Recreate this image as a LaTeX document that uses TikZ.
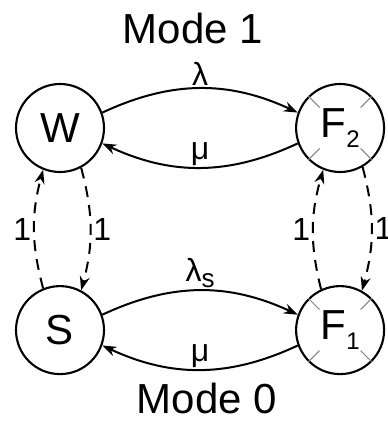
\documentclass[tikz,border=0pt]{standalone}
\usepackage{fontspec}
\setmainfont{Liberation Sans}
\usetikzlibrary{arrows.meta,positioning}

\begin{document}
\begin{tikzpicture}[
    x=1pt, y=1pt,
    state/.style={circle, draw, line width=2.1pt, minimum size=88pt, inner sep=0pt, font=\fontsize{42}{42}\selectfont},
    rate/.style={font=\fontsize{32}{32}\selectfont, inner sep=2pt},
    mode/.style={font=\fontsize{42}{42}\selectfont, inner sep=0pt},
    trans/.style={line width=2pt, -{Stealth[length=14pt,width=10pt]}},
    switch/.style={trans, dash pattern=on 11pt off 8pt},
    tick/.style={gray, line width=1pt},
]
\useasboundingbox (0,0) rectangle (388,-421);

\node[state] (W) at (60,-128) {W};
\node[state, right=190pt of W] (F2) {F\raisebox{-10pt}{\fontsize{24}{24}\selectfont 2}};
\node[state, below=112pt of W] (S) {S};
\node[state, below=112pt of F2] (F1) {F\raisebox{-10pt}{\fontsize{24}{24}\selectfont 1}};

% failed states are crossed out
\foreach \n in {F2,F1}
    \foreach \a in {45,135,225,315}
        \draw[tick] ([shift={(\a:29pt)}]\n.center) -- (\n.\a);

\draw[trans] (W.20) to[bend left=25] node[rate, above] (lam) {λ} (F2.160);
\draw[trans] (F2.-160) to[bend left=25] node[rate, above, inner sep=1pt] (mu1) {μ} (W.-20);
\draw[trans] (S.20) to[bend left=25] node[rate, above] (lams) {λ\raisebox{-6pt}{\fontsize{26}{26}\selectfont s}} (F1.160);
\draw[trans] (F1.-160) to[bend left=25] node[rate, above, inner sep=1pt] (mu0) {μ} (S.-20);

\draw[switch] (S.112) to[bend left=15] node[rate, left] (sw1) {1} (W.-112);
\draw[switch] (W.-62) to[bend left=15] node[rate, right] (ws1) {1} (S.62);
\draw[switch] (F1.115) to[bend left=15] node[rate, left] (ff1) {1} (F2.-112);
\draw[switch] (F2.-60) to[bend left=15] node[rate, right] (ff2) {1} (F1.61);

\node[mode] (mode1) at (193,-28) {Mode 1};
\node[mode] (mode0) at (207,-398) {Mode 0};
\end{tikzpicture}
\end{document}
